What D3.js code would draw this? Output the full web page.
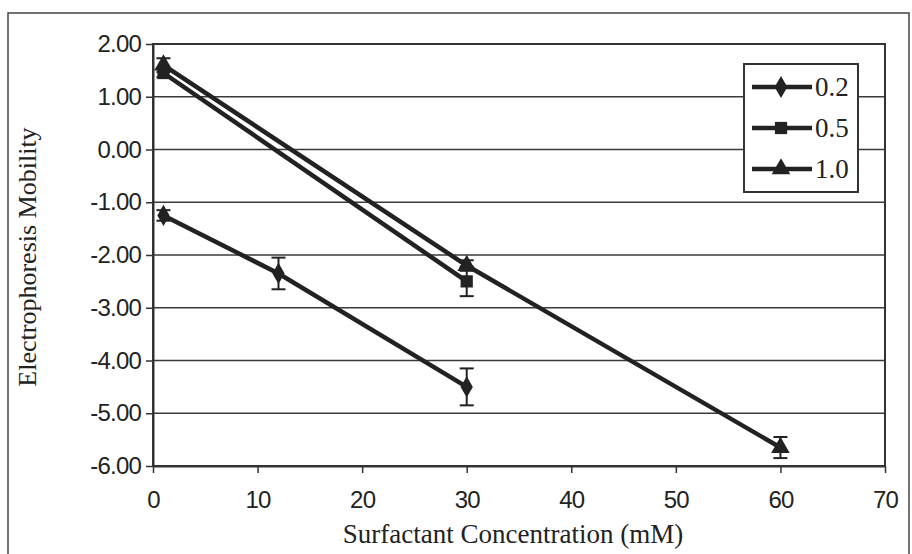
<!DOCTYPE html>
<html><head><meta charset="utf-8">
<script src="https://cdn.jsdelivr.net/npm/d3@7"></script>
<style>body{margin:0;background:#fff}svg{display:block}</style>
</head><body>
<svg id="c" width="912" height="554"></svg>
<script>
const seriesNames = ["0.2", "0.5", "1.0"];
const xs02 = [1, 12, 30];
const ys02 = [-1.25, -2.35, -4.5];
const err02 = [0.1, 0.3, 0.35];
const xs05 = [1, 30];
const ys05 = [1.45, -2.5];
const err05 = [0.08, 0.28];
const xs10 = [1, 30, 60];
const ys10 = [1.6, -2.2, -5.65];
const err10 = [0.13, 0.1, 0.2];
const xTicks = [0, 10, 20, 30, 40, 50, 60, 70];
const yTicks = [2, 1, 0, -1, -2, -3, -4, -5, -6];
const markers = [d3.symbolDiamond, d3.symbolSquare, d3.symbolTriangle];

const series = [
  {name: seriesNames[0], xs: xs02, ys: ys02, err: err02},
  {name: seriesNames[1], xs: xs05, ys: ys05, err: err05},
  {name: seriesNames[2], xs: xs10, ys: ys10, err: err10}
];

const ink = "#222";
const sans = "Liberation Sans, Arial, sans-serif";
const serif = "Liberation Serif, Times New Roman, serif";
const svg = d3.select("#c");
const L = 153, R = 885, T = 44, B = 466;
const x = d3.scaleLinear().domain([0, 70]).range([L, R]);
const y = d3.scaleLinear().domain([-6, 2]).range([B, T]);

// outer frame
svg.append("rect").attr("x", 8).attr("y", 13).attr("width", 901).attr("height", 560)
  .attr("fill", "none").attr("stroke", "#444").attr("stroke-width", 1.5);

// gridlines
svg.append("g").selectAll("line").data(yTicks).join("line")
  .attr("x1", L).attr("x2", R).attr("y1", d => y(d)).attr("y2", d => y(d))
  .attr("stroke", "#3a3a3a").attr("stroke-width", 1.5);

// plot border
svg.append("rect").attr("x", L).attr("y", T).attr("width", R - L).attr("height", B - T)
  .attr("fill", "none").attr("stroke", "#333").attr("stroke-width", 2);

// axes
const yAxis = d3.axisLeft(y).tickValues(yTicks).tickSize(7).tickSizeOuter(0);
const gy = svg.append("g").attr("transform", `translate(${L},0)`).call(yAxis);
gy.select(".domain").attr("stroke", "#333").attr("stroke-width", 2);
gy.selectAll(".tick line").attr("stroke", "#333").attr("stroke-width", 1.5);
gy.selectAll(".tick text").attr("font-family", sans)
  .attr("font-size", 24).attr("fill", ink).attr("x", -12).attr("letter-spacing", -0.8)
  .text(d => d3.format(".2f")(d).replace("\u2212", "-"));

const xAxis = d3.axisBottom(x).tickValues(xTicks).tickSize(7).tickSizeOuter(0);
const gx = svg.append("g").attr("transform", `translate(0,${B})`).call(xAxis);
gx.select(".domain").attr("stroke", "#333").attr("stroke-width", 2);
gx.selectAll(".tick line").attr("stroke", "#333").attr("stroke-width", 1.5);
gx.selectAll(".tick text").attr("font-family", sans)
  .attr("font-size", 24).attr("fill", ink).attr("y", 25).attr("letter-spacing", -0.8);

// titles
svg.append("text").attr("x", 513).attr("y", 543).attr("text-anchor", "middle")
  .attr("font-family", serif).attr("font-size", 27).attr("fill", ink)
  .text("Surfactant Concentration (mM)");
svg.append("text").attr("transform", "translate(36,257) rotate(-90)").attr("text-anchor", "middle")
  .attr("font-family", serif).attr("font-size", 26).attr("fill", ink)
  .text("Electrophoresis Mobility");

// series
const line = d3.line().x(d => x(d[0])).y(d => y(d[1]));
series.forEach((s, i) => {
  const pts = s.xs.map((v, j) => [v, s.ys[j], s.err[j]]);
  const g = svg.append("g");
  g.append("path").attr("d", line(pts)).attr("fill", "none").attr("stroke", ink).attr("stroke-width", 4.5);
  pts.forEach(p => {
    const cx = x(p[0]), y1 = y(p[1] + p[2]), y2 = y(p[1] - p[2]);
    g.append("line").attr("x1", cx).attr("x2", cx).attr("y1", y1).attr("y2", y2).attr("stroke", ink).attr("stroke-width", 2);
    g.append("line").attr("x1", cx - 7).attr("x2", cx + 7).attr("y1", y1).attr("y2", y1).attr("stroke", ink).attr("stroke-width", 2);
    g.append("line").attr("x1", cx - 7).attr("x2", cx + 7).attr("y1", y2).attr("y2", y2).attr("stroke", ink).attr("stroke-width", 2);
  });
  g.selectAll("path.m").data(pts).join("path").attr("class", "m")
    .attr("transform", d => `translate(${x(d[0])},${y(d[1])})`)
    .attr("d", d3.symbol().type(markers[i]).size(i === 0 ? 130 : 150))
    .attr("fill", ink);
});

// legend
const lg = svg.append("g");
lg.append("rect").attr("x", 744).attr("y", 64).attr("width", 114).attr("height", 128)
  .attr("fill", "#fff").attr("stroke", "#333").attr("stroke-width", 2);
series.forEach((s, i) => {
  const ly = 87 + i * 41;
  lg.append("line").attr("x1", 752).attr("x2", 812).attr("y1", ly).attr("y2", ly).attr("stroke", ink).attr("stroke-width", 4.5);
  lg.append("path").attr("transform", `translate(781,${ly})`)
    .attr("d", d3.symbol().type(markers[i]).size(i === 0 ? 140 : 150)).attr("fill", ink);
  lg.append("text").attr("x", 815).attr("y", ly + 9)
    .attr("font-family", serif).attr("font-size", 27).attr("fill", ink)
    .text(s.name);
});
</script>
</body></html>
